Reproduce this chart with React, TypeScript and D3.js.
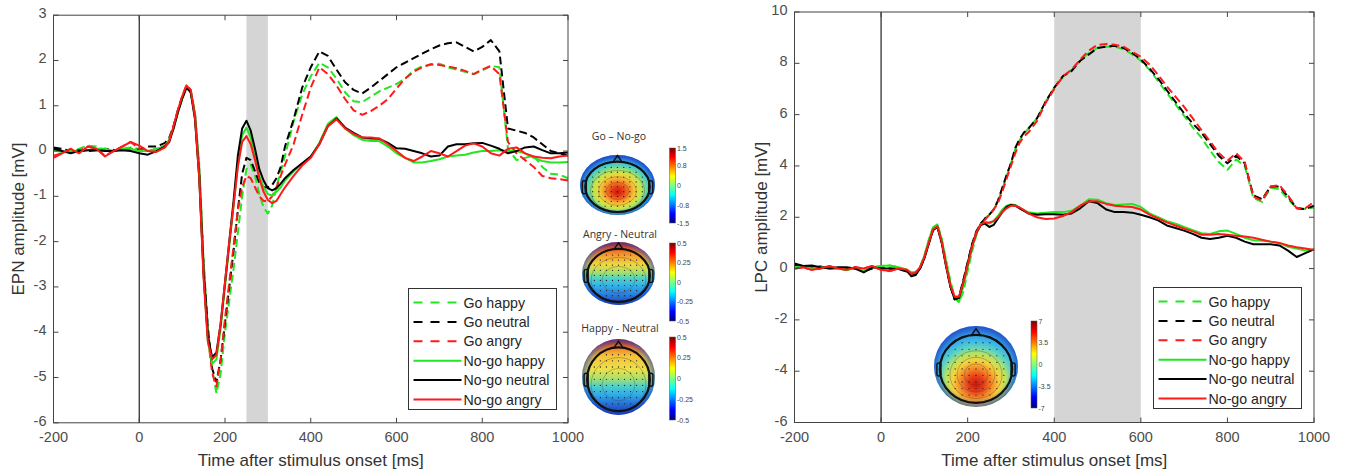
import React from "react";
import * as d3 from "d3";

// time grid (ms) shared by all waveforms
const times = [
  -200, -180, -160, -140, -120, -100, -80, -60, -40, -20, 0, 20, 40, 60,
  70, 80, 90, 100, 110, 120, 130, 140, 150, 160, 170, 180, 190, 200, 210, 220, 230, 240, 250, 260, 270, 280, 290, 300, 310, 320, 330, 340,
  360, 380, 400, 420, 440, 460, 480, 500, 520, 540, 560, 580, 600, 620, 640, 660, 680, 700, 720, 740, 760, 780, 800, 820, 840, 860, 880, 900, 920, 940, 960, 980, 1000,
];

// EPN panel
const epnGoHappy = [
  0.05, 0.02, 0.0, 0.05, 0.12, 0.1, 0.02, 0.0, 0.05, 0.08, 0.05, 0.0, 0.0, 0.08,
  0.25, 0.5, 0.85, 1.15, 1.4, 1.35, 0.85, -0.3, -2.4, -3.9, -4.8, -5.35, -4.9, -4.0, -3.3, -2.6, -1.8, -1.0, -0.4, -0.3, -0.55, -0.95, -1.25, -1.38, -1.2, -0.8, -0.45, -0.1,
  0.65, 1.25, 1.65, 1.95, 1.85, 1.6, 1.3, 1.1, 1.08, 1.2, 1.32, 1.4, 1.48, 1.6, 1.78, 1.87, 1.9, 1.93, 1.85, 1.8, 1.75, 1.7, 1.78, 1.88, 1.85, 0.05, -0.2, -0.15, -0.1, -0.35, -0.5, -0.52, -0.6,
];
const epnGoNeutral = [
  0.08, 0.05, 0.0, 0.02, 0.0, 0.02, 0.05, 0.03, 0.02, 0.05, 0.03, 0.1, 0.1, 0.18,
  0.3, 0.55, 0.9, 1.2, 1.42, 1.3, 0.8, -0.4, -2.5, -3.9, -4.8, -5.1, -4.6, -3.8, -3.0, -2.2, -1.3, -0.5, -0.15, -0.2, -0.45, -0.7, -0.8, -0.8, -0.75, -0.6, -0.35, 0.1,
  0.7, 1.4, 1.85, 2.2, 2.1, 1.8, 1.52, 1.35, 1.27, 1.4, 1.55, 1.7, 1.85, 1.95, 2.05, 2.15, 2.25, 2.33, 2.38, 2.4, 2.3, 2.2, 2.3, 2.45, 2.2, 0.5, 0.45, 0.4, 0.3, 0.15, 0.0, -0.05, -0.1,
];
const epnGoAngry = [
  -0.1, -0.05, 0.05, 0.0, 0.1, 0.05, -0.1, 0.0, 0.1, 0.2, 0.05, -0.02, 0.05, 0.12,
  0.25, 0.55, 0.9, 1.2, 1.45, 1.35, 0.8, -0.5, -2.6, -4.1, -4.9, -5.2, -4.6, -3.7, -2.9, -2.1, -1.3, -0.8, -0.55, -0.6, -0.8, -1.0, -1.1, -1.1, -1.0, -0.8, -0.55, -0.3,
  0.15, 0.8, 1.4, 1.85, 1.7, 1.45, 1.15, 0.9, 0.8, 0.88, 1.0, 1.15, 1.38, 1.6, 1.75, 1.85, 1.92, 1.9, 1.87, 1.83, 1.77, 1.7, 1.8, 1.88, 1.7, 0.2, -0.05, -0.2, -0.35, -0.55, -0.6, -0.62, -0.65,
];
const epnNogoHappy = [
  0.02, -0.02, 0.0, 0.0, 0.02, 0.05, 0.05, 0.0, 0.05, 0.05, 0.0, 0.0, 0.05, 0.1,
  0.25, 0.5, 0.85, 1.15, 1.4, 1.32, 0.75, -0.5, -2.7, -4.2, -4.7, -4.6, -3.9, -3.0, -2.1, -1.2, -0.3, 0.35, 0.52, 0.3, -0.15, -0.55, -0.8, -0.95, -0.98, -0.9, -0.8, -0.65,
  -0.45, -0.28, -0.12, 0.18, 0.6, 0.75, 0.5, 0.35, 0.25, 0.22, 0.22, 0.1, -0.05, -0.15, -0.25, -0.25, -0.22, -0.18, -0.12, -0.1, -0.08, -0.03, 0.0, 0.0, 0.02, 0.0, 0.0, -0.05, -0.15, -0.22, -0.25, -0.25, -0.24,
];
const epnNogoNeutral = [
  0.05, 0.0, -0.05, 0.0, 0.02, 0.02, 0.0, 0.0, 0.02, 0.0, -0.05, -0.08, 0.0, 0.1,
  0.2, 0.5, 0.85, 1.15, 1.4, 1.3, 0.7, -0.6, -2.7, -4.1, -4.55, -4.45, -3.8, -2.9, -2.0, -1.1, -0.1, 0.5, 0.67, 0.45, 0.05, -0.4, -0.65, -0.82, -0.87, -0.82, -0.72, -0.6,
  -0.42, -0.27, -0.12, 0.15, 0.55, 0.72, 0.52, 0.4, 0.3, 0.28, 0.27, 0.18, 0.06, 0.05, 0.0, -0.05, -0.12, -0.1, 0.1, 0.15, 0.15, 0.17, 0.18, 0.12, 0.05, -0.05, 0.0, 0.08, 0.1, 0.02, -0.05, -0.05, -0.03,
];
const epnNogoAngry = [
  -0.15, -0.05, 0.05, -0.05, 0.1, 0.05, -0.12, 0.0, 0.1, 0.2, 0.12, 0.0, -0.02, 0.08,
  0.22, 0.55, 0.9, 1.2, 1.45, 1.35, 0.75, -0.6, -2.8, -4.2, -4.6, -4.5, -3.8, -2.9, -2.0, -1.2, -0.35, 0.2, 0.33, 0.15, -0.2, -0.6, -0.9, -1.08, -1.15, -1.1, -0.95, -0.8,
  -0.55, -0.32, -0.15, 0.15, 0.55, 0.7, 0.5, 0.38, 0.3, 0.3, 0.28, 0.15, 0.0, -0.15, -0.22, -0.12, 0.0, -0.05, -0.12, 0.0, 0.12, 0.17, 0.1, -0.05, -0.1, 0.05, 0.08, -0.05, -0.12, -0.15, -0.16, -0.12, -0.1,
];

// LPC panel
const lpcGoHappy = [
  0.05, 0.1, 0.0, 0.08, 0.0, 0.0, -0.05, 0.0, -0.08, 0.05, 0.1, 0.12, 0.05, -0.05,
  -0.15, -0.15, 0.05, 0.5, 1.1, 1.6, 1.72, 1.15, 0.35, -0.5, -1.1, -1.32, -0.9, -0.1, 0.65, 1.3, 1.75, 1.95, 2.1, 2.3, 2.6, 3.1, 3.6, 4.1, 4.65, 5.0, 5.25, 5.45,
  5.85, 6.5, 7.05, 7.45, 7.75, 8.1, 8.4, 8.6, 8.65, 8.65, 8.55, 8.35, 8.1, 7.75, 7.3, 6.85, 6.4, 5.95, 5.5, 5.1, 4.6, 4.15, 3.85, 4.25, 4.0, 2.75, 2.6, 3.15, 3.1, 2.7, 2.35, 2.32, 2.38,
];
const lpcGoNeutral = [
  0.15, 0.1, 0.05, 0.08, 0.0, 0.02, 0.0, 0.05, -0.1, 0.0, 0.02, 0.0, -0.02, -0.12,
  -0.28, -0.22, 0.0, 0.42, 1.0, 1.5, 1.65, 1.05, 0.15, -0.7, -1.2, -1.1, -0.45, 0.25, 0.95, 1.45, 1.75, 1.95, 2.1, 2.3, 2.65, 3.15, 3.65, 4.1, 4.7, 5.05, 5.3, 5.45,
  5.85, 6.5, 7.05, 7.5, 7.7, 8.1, 8.35, 8.6, 8.65, 8.68, 8.6, 8.4, 8.15, 7.8, 7.4, 6.95, 6.5, 6.05, 5.65, 5.3, 4.85, 4.4, 4.1, 4.4, 4.1, 2.85, 2.7, 3.2, 3.2, 2.8, 2.35, 2.32, 2.45,
];
const lpcGoAngry = [
  0.0, 0.05, -0.05, 0.0, 0.1, 0.0, -0.05, 0.05, 0.0, 0.1, -0.05, -0.1, 0.0, -0.05,
  -0.2, -0.15, 0.05, 0.45, 1.0, 1.52, 1.65, 1.05, 0.15, -0.65, -1.1, -1.1, -0.55, 0.15, 0.85, 1.4, 1.72, 1.9, 2.1, 2.3, 2.55, 3.0, 3.5, 4.0, 4.5, 4.9, 5.15, 5.3,
  5.75, 6.45, 7.0, 7.5, 7.75, 8.15, 8.5, 8.72, 8.75, 8.72, 8.65, 8.45, 8.25, 7.95, 7.55, 7.1, 6.7, 6.3, 5.85, 5.4, 4.95, 4.5, 4.2, 4.5, 4.15, 2.8, 2.65, 3.2, 3.25, 2.85, 2.35, 2.35, 2.6,
];
const lpcNogoHappy = [
  0.05, 0.1, 0.0, 0.08, 0.0, 0.0, -0.05, 0.0, -0.08, 0.05, 0.1, 0.12, 0.05, -0.05,
  -0.15, -0.15, 0.05, 0.5, 1.1, 1.6, 1.72, 1.15, 0.3, -0.55, -1.15, -1.3, -0.7, 0.05, 0.8, 1.35, 1.7, 1.8, 1.75, 1.85, 2.05, 2.3, 2.45, 2.5, 2.48, 2.38, 2.28, 2.2,
  2.15, 2.18, 2.2, 2.2, 2.25, 2.45, 2.7, 2.68, 2.55, 2.48, 2.5, 2.52, 2.4, 2.15, 2.0, 1.85, 1.75, 1.62, 1.5, 1.38, 1.35, 1.45, 1.48, 1.35, 1.2, 1.1, 1.08, 1.05, 1.0, 0.85, 0.78, 0.7, 0.75,
];
const lpcNogoNeutral = [
  0.2, 0.1, 0.12, 0.05, 0.0, 0.05, 0.05, 0.0, -0.15, 0.05, 0.0, 0.0, -0.02, -0.1,
  -0.3, -0.25, 0.0, 0.4, 0.95, 1.5, 1.62, 1.0, 0.1, -0.7, -1.2, -1.15, -0.5, 0.2, 0.9, 1.4, 1.7, 1.75, 1.62, 1.7, 1.95, 2.2, 2.4, 2.48, 2.45, 2.35, 2.25, 2.15,
  2.1, 2.12, 2.12, 2.1, 2.15, 2.35, 2.62, 2.55, 2.3, 2.2, 2.2, 2.18, 2.1, 2.0, 1.88, 1.68, 1.58, 1.48, 1.35, 1.2, 1.15, 1.2, 1.28, 1.2, 1.05, 0.95, 0.95, 0.95, 0.9, 0.7, 0.45, 0.6, 0.75,
];
const lpcNogoAngry = [
  0.0, 0.05, -0.05, 0.0, 0.1, 0.0, -0.05, 0.05, 0.0, 0.1, -0.05, -0.1, 0.0, -0.05,
  -0.2, -0.15, 0.05, 0.45, 1.0, 1.52, 1.65, 1.05, 0.15, -0.65, -1.1, -1.1, -0.55, 0.15, 0.85, 1.4, 1.72, 1.8, 1.8, 1.85, 2.0, 2.2, 2.35, 2.45, 2.45, 2.38, 2.28, 2.15,
  2.0, 1.93, 1.95, 2.05, 2.2, 2.45, 2.62, 2.62, 2.52, 2.45, 2.42, 2.4, 2.3, 2.1, 1.95, 1.8, 1.68, 1.55, 1.45, 1.32, 1.32, 1.35, 1.32, 1.28, 1.25, 1.2, 1.12, 1.05, 1.0, 0.9, 0.83, 0.78, 0.72,
];

const seriesNames = ["Go happy", "Go neutral", "Go angry", "No-go happy", "No-go neutral", "No-go angry"];
const xTicks = [-200, 0, 200, 400, 600, 800, 1000];
const epnTicks = [3, 2, 1, 0, -1, -2, -3, -4, -5, -6];
const lpcTicks = [10, 8, 6, 4, 2, 0, -2, -4, -6];
const epnWindow = [250, 300];
const lpcWindow = [400, 600];
const goNogoTicks = [1.5, 0.8, 0, -0.8, -1.5];
const emotionTicks = [0.5, 0.25, 0, -0.25, -0.5];
const lpcMapTicks = [7, 3.5, 0, -3.5, -7];

const FONT = "'Liberation Sans', Arial, sans-serif";
const GREEN = "#22e622";
const RED = "#ff1a1a";
const seriesStyle = [
  { color: GREEN, dash: "8,4" },
  { color: "#000000", dash: "8,4" },
  { color: RED, dash: "8,4" },
  { color: GREEN, dash: undefined },
  { color: "#000000", dash: undefined },
  { color: RED, dash: undefined },
];

const jet: [number, string][] = [
  [0, "#7f0000"],
  [0.125, "#ff0000"],
  [0.375, "#ffff00"],
  [0.625, "#00ffff"],
  [0.875, "#0000ff"],
  [1, "#00007f"],
];

type Box = { left: number; right: number; top: number; bottom: number };

const Legend = ({ x0, y0 }: { x0: number; y0: number }) => (
  <g>
    <rect x={x0} y={y0} width={148} height={121} fill="#fff" stroke="#333" strokeWidth={1} />
    {seriesNames.map((name, i) => {
      const yy = y0 + 14 + i * 19.4;
      return (
        <g key={name}>
          <line x1={x0 + 5} x2={x0 + 53} y1={yy} y2={yy} stroke={seriesStyle[i].color}
            strokeWidth={2} strokeDasharray={seriesStyle[i].dash ? "9,8" : undefined} />
          <text x={x0 + 55} y={yy + 5} fontSize={14.2} fill="#262626" fontFamily={FONT}>{name}</text>
        </g>
      );
    })}
  </g>
);

const Panel = ({ box, yDomain, yTicks, yLabel, yLabelX, shade, data, legend }:
  { box: Box; yDomain: number[]; yTicks: number[]; yLabel: string; yLabelX: number; shade: number[]; data: number[][]; legend: number[] }) => {
  const x = d3.scaleLinear().domain([-200, 1000]).range([box.left, box.right]);
  const y = d3.scaleLinear().domain(yDomain).range([box.bottom, box.top]);
  const line = d3.line<number>().x((_, i) => x(times[i])).y((d) => y(d));
  const tick = 5;
  return (
    <g>
      <rect x={x(shade[0])} y={box.top} width={x(shade[1]) - x(shade[0])} height={box.bottom - box.top} fill="#d5d5d5" />
      <line x1={x(0)} x2={x(0)} y1={box.top} y2={box.bottom} stroke="#222" strokeWidth={1.2} />
      {data.map((vals, i) => (
        <path key={i} d={line(vals) || ""} fill="none" stroke={seriesStyle[i].color} strokeWidth={2}
          strokeDasharray={seriesStyle[i].dash} strokeLinejoin="round" />
      ))}
      <rect x={box.left} y={box.top} width={box.right - box.left} height={box.bottom - box.top} fill="none" stroke="#444" strokeWidth={1} />
      {xTicks.map((t) => (
        <g key={t}>
          <line x1={x(t)} x2={x(t)} y1={box.bottom} y2={box.bottom - tick} stroke="#444" />
          <line x1={x(t)} x2={x(t)} y1={box.top} y2={box.top + tick} stroke="#444" />
          <text x={x(t)} y={box.bottom + 19} textAnchor="middle" fontSize={14.5} fill="#4d4d4d" fontFamily={FONT}>{t}</text>
        </g>
      ))}
      {yTicks.map((v) => (
        <g key={v}>
          <line x1={box.left} x2={box.left + tick} y1={y(v)} y2={y(v)} stroke="#444" />
          <line x1={box.right} x2={box.right - tick} y1={y(v)} y2={y(v)} stroke="#444" />
          <text x={box.left - 7} y={y(v) + 3} textAnchor="end" fontSize={14.5} fill="#4d4d4d" fontFamily={FONT}>{v}</text>
        </g>
      ))}
      <text x={(box.left + box.right) / 2} y={box.bottom + 43} textAnchor="middle" fontSize={17} fill="#333" fontFamily={FONT}>
        Time after stimulus onset [ms]
      </text>
      <text transform={`translate(${yLabelX},${(box.top + box.bottom) / 2}) rotate(-90)`} textAnchor="middle"
        fontSize={17} fill="#333" fontFamily={FONT}>{yLabel}</text>
      <Legend x0={legend[0]} y0={legend[1]} />
    </g>
  );
};

const Topo = ({ cx, cy, rx, ry, fill, contours }: { cx: number; cy: number; rx: number; ry: number; fill: string; contours: number[] }) => {
  const hx = rx * 0.86;
  const hy = ry * 0.84;
  const hcy = cy + ry * 0.06;
  const dots: [number, number][] = [];
  d3.range(-4, 5).forEach((i) =>
    d3.range(-4, 5).forEach((j) => {
      if ((i / 4.6) ** 2 + (j / 4.6) ** 2 <= 1) dots.push([cx + (i * hx) / 5.2, hcy + (j * hy) / 5.2]);
    })
  );
  return (
    <g>
      <ellipse cx={cx} cy={cy} rx={rx} ry={ry} fill={`url(#${fill})`} />
      <ellipse cx={cx} cy={cy} rx={rx} ry={ry} fill="url(#rim)" />
      {contours.map((c, i) => (
        <ellipse key={i} cx={cx} cy={cy + ry * 0.2} rx={rx * c} ry={ry * c * 0.95} fill="none" stroke="#3a3a3a" strokeOpacity={0.45} strokeWidth={0.7} />
      ))}
      {dots.map(([px, py], i) => <circle key={i} cx={px} cy={py} r={0.65} fill="#222" />)}
      <path d={`M${cx - 5},${hcy - hy + 1} L${cx},${hcy - hy - 6} L${cx + 5},${hcy - hy + 1}`} fill="none" stroke="#111" strokeWidth={1.5} />
      <rect x={cx - hx - 3} y={hcy - 6} width={4} height={13} rx={2} fill="none" stroke="#111" strokeWidth={1.4} />
      <rect x={cx + hx - 1} y={hcy - 6} width={4} height={13} rx={2} fill="none" stroke="#111" strokeWidth={1.4} />
      <ellipse cx={cx} cy={hcy} rx={hx} ry={hy} fill="none" stroke="#111" strokeWidth={2.2} />
    </g>
  );
};

const ColorBar = ({ x0, top, bottom, ticks }: { x0: number; top: number; bottom: number; ticks: number[] }) => {
  const s = d3.scaleLinear().domain([ticks[ticks.length - 1], ticks[0]]).range([bottom, top]);
  return (
    <g>
      <rect x={x0} y={top} width={6} height={bottom - top} fill="url(#jet)" stroke="#555" strokeWidth={0.5} />
      {ticks.map((t) => (
        <text key={t} x={x0 + 7.5} y={s(t) + 2.5} fontSize={7} fill="#444" fontFamily={FONT}>{t}</text>
      ))}
    </g>
  );
};

const stops = (list: [number, string][]) =>
  list.map(([o, c], i) => <stop key={i} offset={o} stopColor={c} />);

export default function App() {
  const epnBox: Box = { left: 53.5, right: 568, top: 15.2, bottom: 422.8 };
  const lpcBox: Box = { left: 794.5, right: 1314, top: 12, bottom: 422.5 };
  return (
    <svg width={1345} height={475} style={{ position: "absolute", left: 0, top: 0, background: "#fff" }}>
      <defs>
        <linearGradient id="jet" x1="0" y1="0" x2="0" y2="1">{stops(jet)}</linearGradient>
        <radialGradient id="rim" cx="0.5" cy="0.5" r="0.5">
          <stop offset="0.8" stopColor="#1a3cc0" stopOpacity={0} />
          <stop offset="1" stopColor="#1a3cc0" stopOpacity={0.65} />
        </radialGradient>
        <radialGradient id="mapGoNogo" cx="0.5" cy="0.55" r="0.6" fx="0.5" fy="0.62">
          {stops([[0, "#c41a0c"], [0.14, "#e8401a"], [0.27, "#f78a25"], [0.4, "#f4d03a"], [0.52, "#c4e64c"],
            [0.63, "#6cd89a"], [0.74, "#34c2e2"], [0.87, "#2a78e0"], [1, "#1838b8"]])}
        </radialGradient>
        <linearGradient id="mapAngry" x1="0" y1="0" x2="0" y2="1">
          {stops([[0, "#c01a0a"], [0.1, "#ec5a1e"], [0.22, "#f5a030"], [0.36, "#f0d840"], [0.48, "#a8e068"],
            [0.58, "#50d0c8"], [0.7, "#30b0ea"], [0.85, "#2a78dc"], [1, "#1a40b8"]])}
        </linearGradient>
        <linearGradient id="mapHappy" x1="0" y1="0" x2="0" y2="1">
          {stops([[0, "#c01c0c"], [0.1, "#f07022"], [0.22, "#f5c23a"], [0.4, "#eee048"], [0.52, "#a8e070"],
            [0.62, "#50d0c8"], [0.74, "#30a8e8"], [0.88, "#2464d0"], [1, "#1a40b0"]])}
        </linearGradient>
        <radialGradient id="mapLpc" cx="0.5" cy="0.68" r="0.75" fx="0.5" fy="0.72">
          {stops([[0, "#c81a10"], [0.12, "#e63a18"], [0.25, "#f48a28"], [0.37, "#f4d23c"], [0.48, "#b8e460"],
            [0.58, "#60d4c0"], [0.7, "#38b4ea"], [0.85, "#3088e0"], [1, "#2a64d8"]])}
        </radialGradient>
      </defs>

      <Panel box={epnBox} yDomain={[-6, 3]} yTicks={epnTicks} yLabel="EPN amplitude [mV]" yLabelX={24}
        shade={epnWindow} legend={[408.5, 288.5]}
        data={[epnGoHappy, epnGoNeutral, epnGoAngry, epnNogoHappy, epnNogoNeutral, epnNogoAngry]} />
      <Panel box={lpcBox} yDomain={[-6, 10]} yTicks={lpcTicks} yLabel="LPC amplitude [mV]" yLabelX={767}
        shade={lpcWindow} legend={[1153.5, 287.5]}
        data={[lpcGoHappy, lpcGoNeutral, lpcGoAngry, lpcNogoHappy, lpcNogoNeutral, lpcNogoAngry]} />

      <g fontFamily="'Open Sans', sans-serif" fontSize={10.5} fill="#333" textAnchor="middle">
        <text x={619} y={140}>Go – No-go</text>
        <text x={620} y={238}>Angry - Neutral</text>
        <text x={620} y={332}>Happy - Neutral</text>
      </g>
      <Topo cx={617.5} cy={185} rx={37.5} ry={30} fill="mapGoNogo" contours={[0.3, 0.5, 0.72]} />
      <Topo cx={618.5} cy={273.5} rx={36.5} ry={31.5} fill="mapAngry" contours={[0.45, 0.75]} />
      <Topo cx={618.5} cy={377} rx={36.5} ry={38} fill="mapHappy" contours={[0.45, 0.75]} />
      <ColorBar x0={669.5} top={148} bottom={223} ticks={goNogoTicks} />
      <ColorBar x0={669.5} top={243} bottom={321} ticks={emotionTicks} />
      <ColorBar x0={669.5} top={337} bottom={420} ticks={emotionTicks} />

      <Topo cx={976} cy={366.5} rx={42} ry={40.5} fill="mapLpc" contours={[0.28, 0.45, 0.62]} />
      <ColorBar x0={1031} top={321} bottom={408} ticks={lpcMapTicks} />
    </svg>
  );
}
